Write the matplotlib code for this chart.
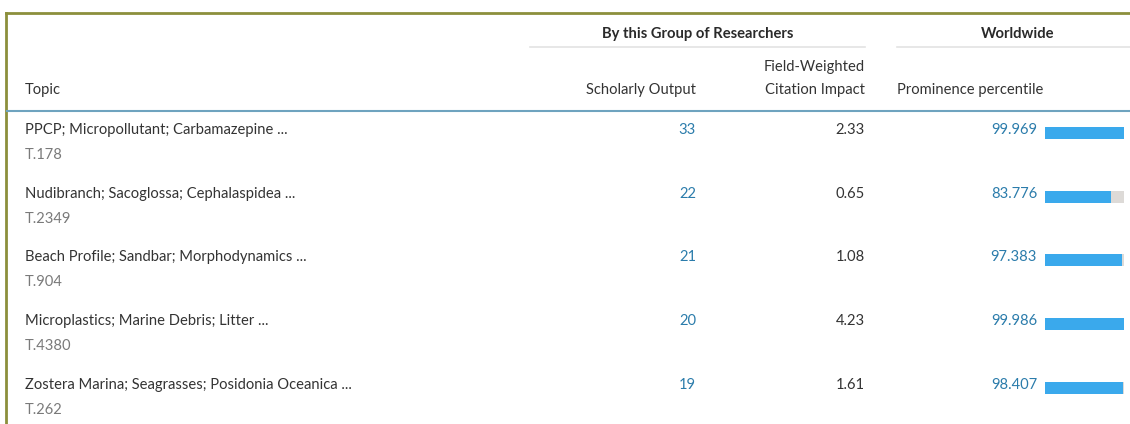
import matplotlib.pyplot as plt

# 表格数据
topics = ["PPCP; Micropollutant; Carbamazepine ...",
          "Nudibranch; Sacoglossa; Cephalaspidea ...",
          "Beach Profile; Sandbar; Morphodynamics ...",
          "Microplastics; Marine Debris; Litter ...",
          "Zostera Marina; Seagrasses; Posidonia Oceanica ..."]
topic_ids = ["T.178", "T.2349", "T.904", "T.4380", "T.262"]
scholarly_output = [33, 22, 21, 20, 19]
fwci = [2.33, 0.65, 1.08, 4.23, 1.61]
prominence = [99.969, 83.776, 97.383, 99.986, 98.407]

W, H = 1130, 424
plt.rcParams['font.family'] = ['Lato', 'DejaVu Sans']

fig = plt.figure(figsize=(W / 100, H / 100), dpi=100, facecolor="white")
ax = fig.add_axes([0, 0, 1, 1])
ax.set_xlim(0, W)
ax.set_ylim(H, 0)
ax.axis("off")

txt = "#333333"
blue_txt = "#2b7cab"
grey_txt = "#7a7a7a"
fs = 10.6

# 边框（橄榄色）
ax.plot([6, W], [13, 13], color="#8c8f3c", lw=2)
ax.plot([6, 6], [13, H], color="#8c8f3c", lw=2)

# 表头
ax.text(698, 34, "By this Group of Researchers", ha="center", va="center",
        fontsize=fs, color="#2a2a2a", fontweight="bold")
ax.text(1018, 34, "Worldwide", ha="center", va="center",
        fontsize=fs, color="#2a2a2a", fontweight="bold")
ax.plot([530, 865], [47, 47], color="#e3e3e3", lw=1.2)
ax.plot([897, W], [47, 47], color="#e3e3e3", lw=1.2)
ax.text(25, 90, "Topic", ha="left", va="center", fontsize=fs, color=txt)
ax.text(696, 90, "Scholarly Output", ha="right", va="center", fontsize=fs, color=txt)
ax.text(865, 67, "Field-Weighted", ha="right", va="center", fontsize=fs, color=txt)
ax.text(865, 90, "Citation Impact", ha="right", va="center", fontsize=fs, color=txt)
ax.text(897, 90, "Prominence percentile", ha="left", va="center", fontsize=fs, color=txt)
ax.plot([7, W], [111, 111], color="#6ea3bf", lw=1.5)

# 行
row_y = [130 + i * 63.7 for i in range(len(topics))]
for i, y in enumerate(row_y):
    ax.text(25, y, topics[i], ha="left", va="center", fontsize=fs, color=txt)
    ax.text(25, y + 25, topic_ids[i], ha="left", va="center", fontsize=fs, color=grey_txt)
    ax.text(696, y, str(scholarly_output[i]), ha="right", va="center", fontsize=fs, color=blue_txt)
    ax.text(865, y, "%.2f" % fwci[i], ha="right", va="center", fontsize=fs, color=txt)
    ax.text(1037, y, "%.3f" % prominence[i], ha="right", va="center", fontsize=fs, color=blue_txt)

# 百分位条形图
bx = fig.add_axes([1045 / W, 0, 79 / W, 1])
bx.set_xlim(0, 100)
bx.set_ylim(H, 0)
bx.axis("off")
bar_y = [y + 3 for y in row_y]
bx.barh(bar_y, [100] * len(prominence), height=12, color="#dddad7")
bx.barh(bar_y, prominence, height=12, color="#3aa9ec")

fig.savefig("out.png", dpi=100, facecolor="white")
